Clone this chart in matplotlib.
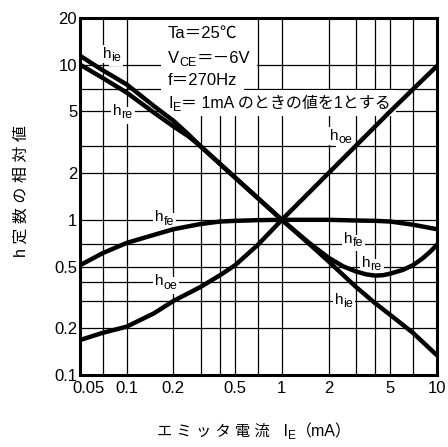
import matplotlib
matplotlib.use('Agg')
import matplotlib.pyplot as plt
from matplotlib.transforms import offset_copy, ScaledTranslation
import numpy as np

plt.rcParams['font.family'] = ['Liberation Sans', 'Noto Sans CJK JP', 'DejaVu Sans']

# emitter current (mA) and relative h-parameter values (1 at IE = 1mA)
ie_hie = [0.05, 0.07, 0.1, 0.15, 0.2, 0.25, 0.3, 0.5, 0.7, 1, 1.5, 2, 3, 4, 5, 7, 10]
hie = [11.4, 9.2, 7.45, 5.4, 4.35, 3.55, 2.97, 1.87, 1.38, 1.0, 0.70, 0.54, 0.37, 0.29, 0.244, 0.187, 0.134]

ie_hre = [0.05, 0.07, 0.1, 0.15, 0.2, 0.25, 0.3, 0.5, 0.7, 1, 1.5, 2, 2.5, 3, 3.5, 4, 4.5, 5, 6, 7, 8, 9, 10]
hre = [10.0, 8.2, 6.6, 4.9, 4.0, 3.45, 2.97, 1.87, 1.38, 1.0, 0.71, 0.57, 0.50, 0.465, 0.445, 0.437, 0.44,
       0.45, 0.475, 0.51, 0.56, 0.62, 0.69]

ie_hfe = [0.05, 0.07, 0.1, 0.15, 0.2, 0.3, 0.4, 0.5, 0.7, 1, 2, 3, 4, 5, 7, 10]
hfe = [0.51, 0.61, 0.71, 0.80, 0.87, 0.94, 0.975, 0.985, 0.995, 1.0, 1.0, 0.99, 0.985, 0.975, 0.93, 0.87]

ie_hoe = [0.05, 0.07, 0.1, 0.15, 0.2, 0.3, 0.4, 0.5, 0.7, 1, 2, 5, 10]
hoe = [0.168, 0.187, 0.205, 0.25, 0.30, 0.37, 0.44, 0.51, 0.69, 1.0, 2.0, 5.0, 9.8]

x_major = [0.05, 0.1, 0.2, 0.5, 1, 2, 5, 10]
x_labels = ['0.05', '0.1', '0.2', '0.5', '1', '2', '5', '10']
x_minor = [0.07, 0.3, 0.4, 0.7, 3, 4, 7]
y_major = [0.1, 0.2, 0.5, 1, 2, 5, 10, 20]
y_labels = ['0.1', '0.2', '0.5', '1', '2', '5', '10', '20']
y_minor = [0.3, 0.4, 0.7, 3, 7]

fig = plt.figure(figsize=(4.48, 4.47), dpi=100)
ax = fig.add_axes([0.1786, 0.161, 0.7968, 0.799])
ax.set_xscale('log')
ax.set_yscale('log')
ax.set_xlim(0.05, 10)
ax.set_ylim(0.1, 20)

ax.set_xticks(x_major)
ax.set_xticklabels(x_labels)
ax.set_xticks(x_minor, minor=True)
ax.set_xticklabels([], minor=True)
ax.set_yticks(y_major)
ax.set_yticklabels(y_labels)
ax.set_yticks(y_minor, minor=True)
ax.set_yticklabels([], minor=True)
ax.tick_params(which='both', length=0, labelsize=12)
ax.tick_params(axis='x', pad=4)
ax.tick_params(axis='y', pad=2)
ax.grid(which='both', color='black', lw=0.9)
ax.set_axisbelow(True)
for sp in ax.spines.values():
    sp.set_linewidth(2.2)

# nudge the first x label off the corner like the original
lab0 = ax.get_xticklabels()[0]
lab0.set_transform(lab0.get_transform() + ScaledTranslation(6 / 72, 0, fig.dpi_scale_trans))

kw = dict(color='black', lw=3.2, solid_joinstyle='round', zorder=3)
ax.plot(ie_hie, hie, **kw)
ax.plot(ie_hre, hre, **kw)
ax.plot(ie_hfe, hfe, **kw)
ax.plot(ie_hoe, hoe, **kw)

renderer = fig.canvas.get_renderer()


def put_run(x, y, parts, transform, pad=1.5):
    # write pieces side by side (for subscripts), white patch behind
    dx = 0.0
    for s, fs, dy in parts:
        tr = offset_copy(transform, fig=fig, x=dx, y=dy, units='points')
        if pad:
            ax.text(x, y, s, transform=tr, fontsize=fs, va='baseline', ha='left', color='white',
                    zorder=2, bbox=dict(fc='white', ec='none', pad=pad), clip_on=False)
        t = ax.text(x, y, s, transform=tr, fontsize=fs, va='baseline', ha='left',
                    color='black', zorder=5, clip_on=False)
        dx += t.get_window_extent(renderer).width * 72 / fig.dpi


# condition block
ta = ax.transAxes
put_run(0.2465, 0.944, [('Ta＝25℃', 12, 0)], ta, pad=5)
put_run(0.2465, 0.874, [('V', 12, 0), ('CE', 9, -2.5), ('＝－6V', 12, 0)], ta, pad=5)
put_run(0.2465, 0.812, [('f＝270Hz', 12, 0)], ta, pad=5)
put_run(0.2465, 0.748, [('I', 12, 0), ('E', 9, -2.5), ('＝ 1mA のときの値を1とする', 11.5, 0)], ta, pad=4)

# curve labels
curve_labels = [
    ('ie', 0.064, 0.888), ('re', 0.092, 0.728), ('oe', 0.700, 0.658),
    ('fe', 0.210, 0.431), ('oe', 0.210, 0.252),
    ('fe', 0.739, 0.371), ('re', 0.790, 0.303), ('ie', 0.714, 0.199),
]
for sub, lx, ly in curve_labels:
    put_run(lx, ly, [('h', 11, 0), (sub, 9, -2.5)], ta, pad=1.5)

fig.text(21 / 448, 1 - 191 / 447, 'h 定 数 の 相 対 値', rotation=90, fontsize=11.5,
         ha='center', va='center')

ft = fig.transFigure
put_run(157 / 448, 1 - 436 / 447,
        [('エ ミ ッ タ 電 流', 11, 0), ('   I', 11.5, 0), ('E', 8.5, -2.5), ('（mA）', 11.5, 0)], ft, pad=0)

fig.savefig('out.png', dpi=100, facecolor='white')
